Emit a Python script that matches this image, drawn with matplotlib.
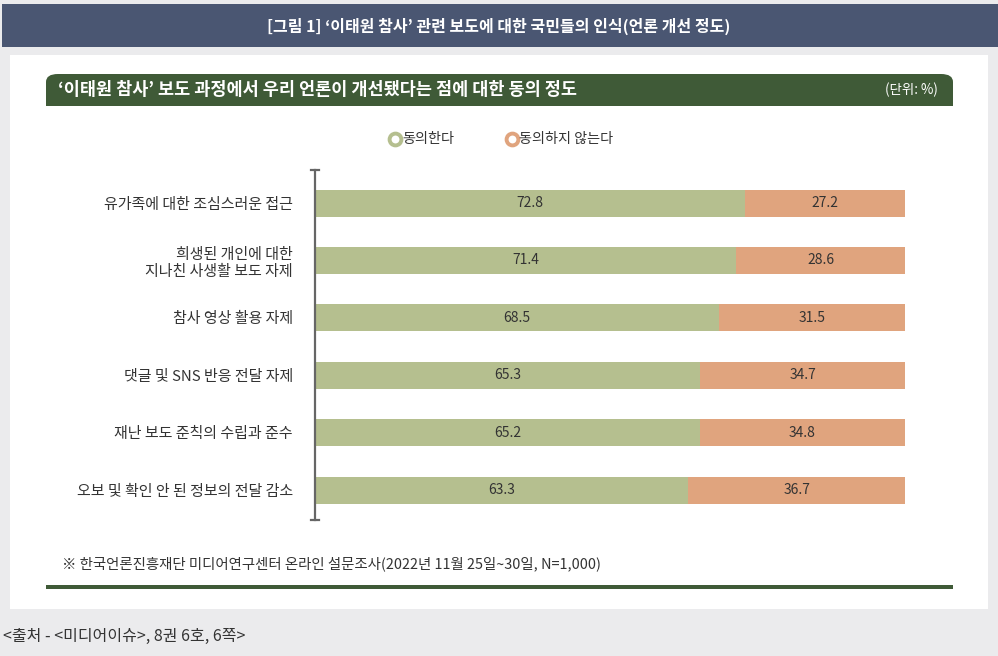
import numpy as np
import matplotlib.pyplot as plt
from matplotlib.patches import Rectangle, FancyBboxPatch

plt.rcParams['font.family'] = ['Noto Sans CJK KR', 'DejaVu Sans']

# data
categories = ['유가족에 대한 조심스러운 접근',
              '희생된 개인에 대한\n지나친 사생활 보도 자제',
              '참사 영상 활용 자제',
              '댓글 및 SNS 반응 전달 자제',
              '재난 보도 준칙의 수립과 준수',
              '오보 및 확인 안 된 정보의 전달 감소']
agree = [72.8, 71.4, 68.5, 65.3, 65.2, 63.3]
disagree = [27.2, 28.6, 31.5, 34.7, 34.8, 36.7]
series_names = ['동의한다', '동의하지 않는다']

c_agree = '#b5bf8f'
c_dis = '#e0a47e'
c_green = '#3f5a37'
c_navy = '#4a5672'
c_bg = '#ebebed'
c_txt = '#333333'

W, H = 998, 656
fig = plt.figure(figsize=(W / 100, H / 100), dpi=100, facecolor=c_bg)

def fx(px):
    return px / W

def fy(py):
    return 1 - py / H

# header band
fig.patches.append(Rectangle((fx(2), fy(47)), fx(996), 43 / H, transform=fig.transFigure,
                             facecolor=c_navy, edgecolor='none', zorder=0))
fig.text(fx(499), fy(26), '[그림 1] ‘이태원 참사’ 관련 보도에 대한 국민들의 인식(언론 개선 정도)',
         color='white', fontsize=11.5, fontweight='bold', ha='center', va='center')

# white panel
fig.patches.append(Rectangle((fx(10), fy(609)), fx(978), 554 / H, transform=fig.transFigure,
                             facecolor='white', edgecolor='none', zorder=0))

# green title bar
fig.patches.append(FancyBboxPatch((fx(46), fy(106)), fx(907), 32 / H, transform=fig.transFigure,
                                  boxstyle='round,pad=0,rounding_size=0.012',
                                  facecolor=c_green, edgecolor='none', zorder=1))
fig.patches.append(Rectangle((fx(46), fy(106)), fx(907), 14 / H, transform=fig.transFigure,
                             facecolor=c_green, edgecolor='none', zorder=1))
fig.text(fx(58), fy(90), '‘이태원 참사’ 보도 과정에서 우리 언론이 개선됐다는 점에 대한 동의 정도',
         color='white', fontsize=12.6, fontweight='bold', ha='left', va='center', zorder=2)
fig.text(fx(938), fy(90), '(단위: %)', color='white', fontsize=9.7, ha='right', va='center', zorder=2)

# legend
for xm, name, col in [(395, series_names[0], c_agree), (512, series_names[1], c_dis)]:
    fig.lines.append(plt.Line2D([fx(xm)], [fy(139)], transform=fig.transFigure, marker='o',
                                markersize=8.5, markerfacecolor='white', markeredgecolor=col,
                                markeredgewidth=2.8, linestyle='none'))
    fig.text(fx(xm + 7), fy(139), name, color=c_txt, fontsize=10.2, ha='left', va='center')

# bars
ax = fig.add_axes([fx(315), fy(520), fx(590), 350 / H])
ax.set_zorder(5)
ax.set_facecolor('none')
y = np.arange(len(categories))
ax.barh(y, agree, height=0.47, color=c_agree)
ax.barh(y, disagree, left=agree, height=0.47, color=c_dis)
for i in range(len(categories)):
    ax.text(agree[i] / 2, y[i], f'{agree[i]:.1f}', ha='center', va='center', fontsize=10, color=c_txt)
    ax.text(agree[i] + disagree[i] / 2, y[i], f'{disagree[i]:.1f}', ha='center', va='center',
            fontsize=10, color=c_txt)
ax.set_xlim(0, 100)
ytop, ybot = -0.575, 5.52
ax.set_ylim(ybot, ytop)
for s in ['top', 'right', 'bottom']:
    ax.spines[s].set_visible(False)
ax.spines['left'].set_color('#666666')
ax.spines['left'].set_linewidth(1.6)
ax.set_xticks([])
ax.set_yticks(y)
ax.set_yticklabels(categories, fontsize=10.8, color=c_txt, linespacing=1.3)
ax.tick_params(axis='y', length=0, pad=16)
for t in ax.get_yticklabels():
    t.set_multialignment('right')
for yy in [ytop, ybot]:
    ax.plot([-0.75, 0.75], [yy, yy], color='#666666', lw=1.6, clip_on=False)

# footnote and bottom line
fig.text(fx(62), fy(564), '※ 한국언론진흥재단 미디어연구센터 온라인 설문조사(2022년 11월 25일~30일, N=1,000)',
         color=c_txt, fontsize=10.4, ha='left', va='center')
fig.patches.append(Rectangle((fx(46), fy(589)), fx(907), 4 / H, transform=fig.transFigure,
                             facecolor=c_green, edgecolor='none', zorder=1))

# source
fig.text(fx(3), fy(636), '<출처 - <미디어이슈>, 8권 6호, 6쪽>', color=c_txt, fontsize=11.5,
         ha='left', va='center')

fig.savefig('out.png', dpi=100, facecolor=c_bg)
